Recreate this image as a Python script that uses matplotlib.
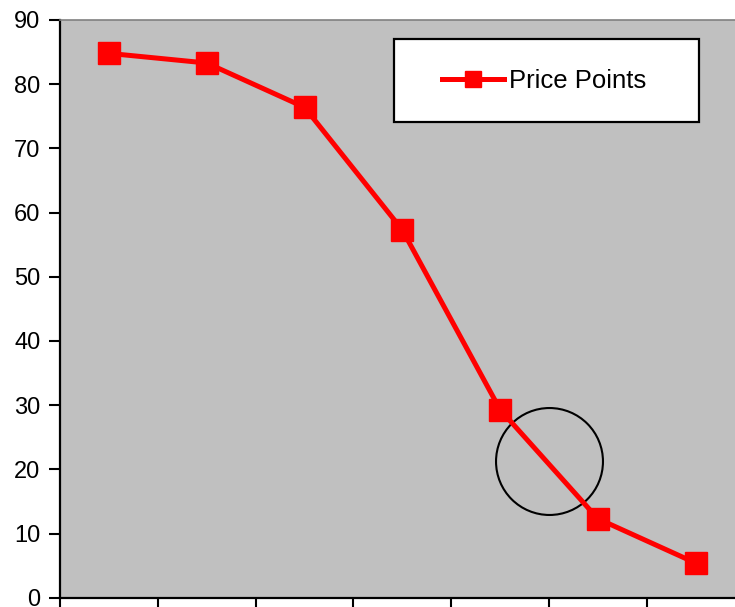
import matplotlib
matplotlib.use("Agg")
import matplotlib.pyplot as plt
from matplotlib.patches import Rectangle
import numpy as np

plt.rcParams['font.family'] = ['Liberation Sans', 'DejaVu Sans']

# Price points per category (7 categories along x)
categories = ["1", "2", "3", "4", "5", "6", "7"]
price_points = [84.8, 83.3, 76.4, 57.3, 29.3, 12.3, 5.4]
series_label = "Price Points"
y_ticks = [0, 10, 20, 30, 40, 50, 60, 70, 80, 90]

# Highlight circle location (data coordinates)
highlight_x = 5.0
highlight_y = 21.3

W, H = 735, 607
fig = plt.figure(figsize=(W / 100, H / 100), dpi=100)
ax = fig.add_axes([60 / W, (H - 597.7) / H, 684.6 / W, 577.7 / H])
ax.set_facecolor('#C0C0C0')

x = np.arange(len(categories)) + 0.5
line, = ax.plot(x, price_points, color='#FF0000', lw=3.6, marker='s',
                ms=16.5, mfc='#FF0000', mec='#FF0000', label=series_label,
                zorder=3, clip_on=False)

# Highlight circle
ax.plot([highlight_x], [highlight_y], marker='o', ms=77, mfc='none',
        mec='black', mew=1.5, ls='none', zorder=2)

ax.set_xlim(0, len(categories))
ax.set_ylim(0, 90)
ax.set_xticks(np.arange(len(categories) + 1))
ax.set_xticklabels([])
ax.set_yticks(y_ticks)
ax.set_yticklabels([str(v) for v in y_ticks])

ax.tick_params(axis='y', direction='out', length=8, width=1.5, pad=6,
               labelsize=17, colors='black')
ax.tick_params(axis='x', direction='out', length=9, width=1.5)

for s in ['left', 'bottom']:
    ax.spines[s].set_color('black')
    ax.spines[s].set_linewidth(1.6)
ax.spines['top'].set_color('#808080')
ax.spines['top'].set_linewidth(1.2)
ax.spines['right'].set_visible(False)

# Legend box
fig.patches.append(Rectangle((394 / W, (H - 122) / H), 305 / W, 83 / H,
                             transform=fig.transFigure, facecolor='white',
                             edgecolor='black', lw=1.6, zorder=4))
leg = fig.legend(handles=[line], labels=[series_label], loc='center left',
                 bbox_to_anchor=(442 / W, (H - 80.5) / H), frameon=False,
                 fontsize=18.5, handlelength=2.4, handletextpad=0.2,
                 borderpad=0, borderaxespad=0)
leg.set_zorder(5)
for h in leg.legend_handles:
    h.set_markersize(11.5)

fig.savefig('out.png', dpi=100)
